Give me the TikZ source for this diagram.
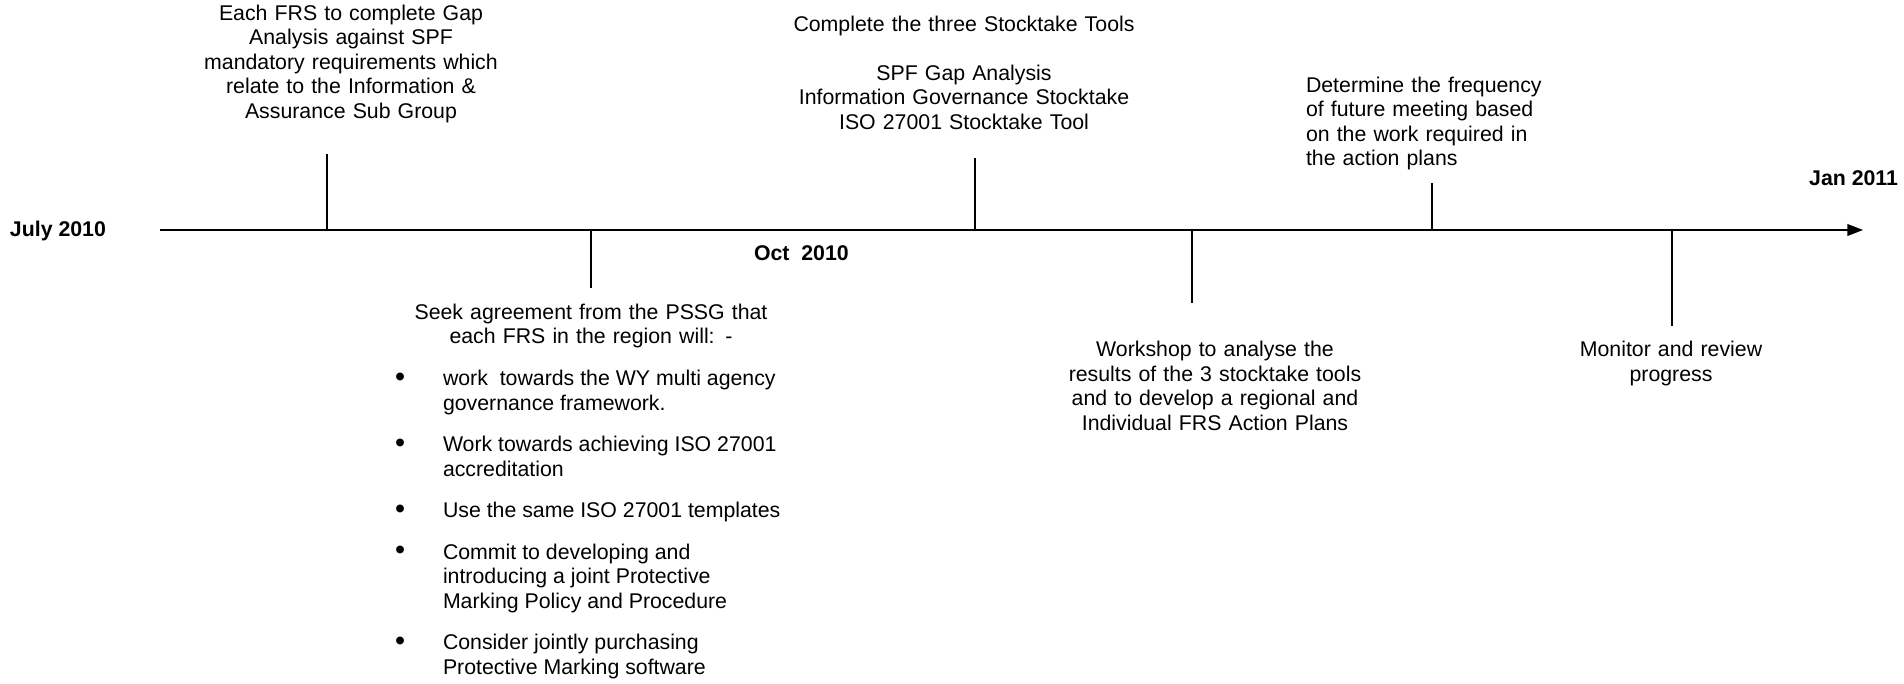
\documentclass[tikz,border=0pt]{standalone}
\usepackage{fontspec}
\setmainfont{Liberation Sans}
\usetikzlibrary{arrows.meta}
\begin{document}
\begin{tikzpicture}[x=0.5pt,y=-0.5pt,
  every node/.style={inner sep=0pt,outer sep=0pt,
    font=\fontsize{10.65pt}{12.25pt}\selectfont},
  datelabel/.style={font=\fontsize{10.65pt}{12.25pt}\selectfont\bfseries},
  note/.style={align=center,text width=200pt,anchor=base},
  leftnote/.style={align=left,text width=140pt,anchor=base west},
  axisline/.style={line width=0.9pt,-{Triangle[length=7.8pt,width=5.8pt]}},
  tickline/.style={line width=0.9pt}]
\useasboundingbox (0,0) rectangle (1904,684);

% time axis
\coordinate (axstart) at (160,230);
\coordinate (axend) at (1863,230);
\draw[axisline] (axstart) -- (axend);

% dates
\node[datelabel,anchor=base west] (july) at (10,236.5) {July 2010};
\node[datelabel,anchor=base west] (oct) at (754,260.5) {Oct~~2010};
\node[datelabel,anchor=base east] (jan) at (1898,185.5) {Jan 2011};

% tick marks along the axis
\coordinate (t1a) at (327,230);  \coordinate (t1b) at (327,154);
\coordinate (t2a) at (591,230);  \coordinate (t2b) at (591,288);
\coordinate (t3a) at (975,230);  \coordinate (t3b) at (975,158);
\coordinate (t4a) at (1192,230); \coordinate (t4b) at (1192,303);
\coordinate (t5a) at (1432,230); \coordinate (t5b) at (1432,183);
\coordinate (t6a) at (1672,230); \coordinate (t6b) at (1672,326);
\foreach \t in {1,...,6} \draw[tickline] (t\t a) -- (t\t b);

% milestone notes
\node[note] (gap) at (351,20.5)
  {Each FRS to complete Gap\\Analysis against SPF\\mandatory requirements which\\relate to the Information \&\\Assurance Sub Group};

\node[note] (tools) at (964,31.5)
  {Complete the three Stocktake Tools\\[12.25pt]SPF Gap Analysis\\Information Governance Stocktake\\ISO 27001 Stocktake Tool};

\node[note] (seek) at (591,319)
  {Seek agreement from the PSSG that\\each FRS in the region will: -};

\newcommand{\itembullet}{\raisebox{-0.3pt}{\scalebox{1.35}{\textbullet}}}
\node[anchor=base west] (items) at (395,385.5)
  {\begin{tabular}[t]{@{}p{24pt}@{}l@{}}
   \itembullet & work\ \ towards the WY multi agency\\
               & governance framework.\\[8.5pt]
   \itembullet & Work towards achieving ISO 27001\\
               & accreditation\\[8.5pt]
   \itembullet & Use the same ISO 27001 templates\\[8.5pt]
   \itembullet & Commit to developing and\\
               & introducing a joint Protective\\
               & Marking Policy and Procedure\\[8.5pt]
   \itembullet & Consider jointly purchasing\\
               & Protective Marking software
   \end{tabular}};

\node[note] (workshop) at (1215,356.5)
  {Workshop to analyse the\\results of the 3 stocktake tools\\and to develop a regional and\\Individual FRS Action Plans};

\node[leftnote] (freq) at (1306,92.5)
  {Determine the frequency\\of future meeting based\\on the work required in\\the action plans};

\node[note] (monitor) at (1671,356.5)
  {Monitor and review\\progress};
\end{tikzpicture}
\end{document}
